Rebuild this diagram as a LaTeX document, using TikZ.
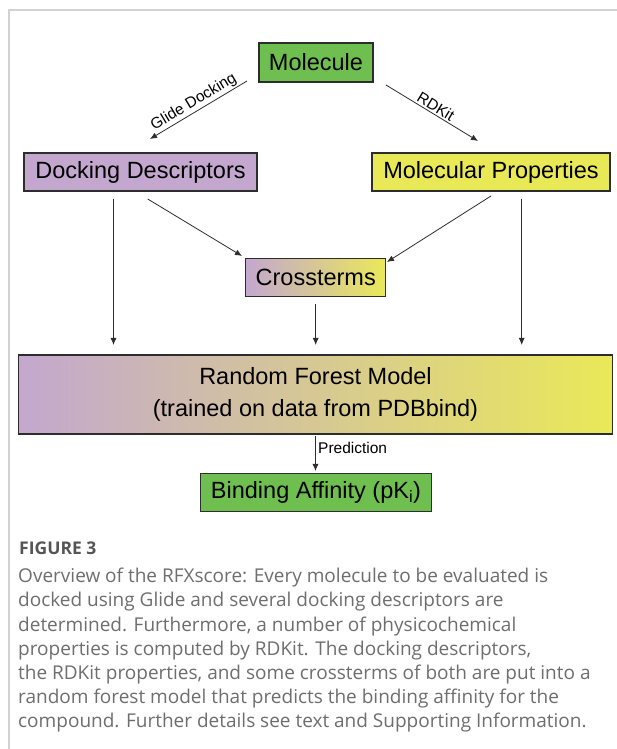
\documentclass[tikz,border=0pt]{standalone}
\usepackage{fontspec}
\setmainfont{Liberation Sans}
\newfontfamily\capfont{Open Sans}
\usetikzlibrary{arrows.meta}
\definecolor{boxgreen}{RGB}{110,190,80}
\definecolor{boxpurple}{RGB}{196,167,207}
\definecolor{boxyellow}{RGB}{233,233,88}
\definecolor{boxmid}{RGB}{218,200,182}
\definecolor{linegray}{RGB}{45,45,45}
\definecolor{framegray}{RGB}{210,210,210}
\definecolor{captext}{RGB}{110,110,110}
\definecolor{caphead}{RGB}{85,85,85}
\tikzset{
  box/.style={draw=linegray, line width=1.1pt, inner sep=0pt, text=black,
    font=\fontsize{23.5}{26}\selectfont},
  conn/.style={draw=linegray, line width=0.8pt, -{Latex[length=7pt,width=6pt]}},
  lbl/.style={font=\fontsize{15.5}{17}\selectfont, text=black, inner sep=1.5pt},
}
\begin{document}
\begin{tikzpicture}[x=1pt,y=1pt]
\useasboundingbox (0,0) rectangle (617,749);
\fill[white] (0,0) rectangle (617,749);
% frame
\draw[framegray, line width=1.5pt] (9,0) -- (9,739) -- (617,739);
% nodes
\node[box, fill=boxgreen, minimum width=114pt, minimum height=39pt] (mol) at (316,686.5) {Molecule};
\node[box, fill=boxpurple, minimum width=233pt, minimum height=38pt] (dd) at (140.5,577) {Docking Descriptors};
\node[box, fill=boxyellow, minimum width=238pt, minimum height=38pt] (mp) at (491,577) {Molecular Properties};
\node[box, left color=boxpurple, middle color=boxmid, right color=boxyellow, minimum width=140pt, minimum height=38.5pt] (ct) at (315.7,471.5) {Crossterms};
\node[box, left color=boxpurple, middle color=boxmid, right color=boxyellow, minimum width=594pt, minimum height=79pt, align=center,
  font=\fontsize{23.5}{32}\selectfont] (rf) at (315.5,354.5) {Random Forest Model\\(trained on data from PDBbind)};
\node[box, fill=boxgreen, minimum width=231.5pt, minimum height=38.5pt] (ba) at (316,256.5) {Binding Affinity (pK\textsubscript{i})};
% connector end points
\coordinate (g1) at (247,668);
\coordinate (g2) at (150,610);
\coordinate (r1) at (386,664);
\coordinate (r2) at (478,608);
\coordinate (a1) at (147.7,550);
\coordinate (a2) at (242,493);
\coordinate (b1) at (491,553);
\coordinate (b2) at (387,487);
\coordinate (v1s) at (113.5,550);
\coordinate (v1e) at (113.5,404);
\coordinate (v2s) at (315.7,445);
\coordinate (v2e) at (315.7,404);
\coordinate (v3s) at (521.7,550);
\coordinate (v3e) at (521.7,404);
\coordinate (ps) at (315.5,313);
\coordinate (pe) at (315.5,278);
% connectors
\draw[conn] (g1) -- node[lbl, sloped, above] {Glide Docking} (g2);
\draw[conn] (r1) -- node[lbl, sloped, above] {RDKit} (r2);
\draw[conn] (a1) -- (a2);
\draw[conn] (b1) -- (b2);
\draw[conn] (v1s) -- (v1e);
\draw[conn] (v2s) -- (v2e);
\draw[conn] (v3s) -- (v3e);
\draw[conn] (ps) -- (pe);
\node[lbl, anchor=west, inner sep=0pt] (pred) at (318,301) {Prediction};
% caption
\node[anchor=base west, inner sep=0pt, text=caphead, font=\capfont\bfseries\fontsize{17.5}{20}\selectfont] (fig) at (19,194) {FIGURE 3};
\node[anchor=north west, inner sep=0pt, text=captext, align=left, font=\capfont\fontsize{19}{24.2}\selectfont] (cap) at (18,181) {Overview of the RFXscore: Every molecule to be evaluated is\\
docked using Glide and several docking descriptors are\\
determined. Furthermore, a number of physicochemical\\
properties is computed by RDKit. The docking descriptors,\\
the RDKit properties, and some crossterms of both are put into a\\
random forest model that predicts the binding affinity for the\\
compound. Further details see text and Supporting Information.};
\end{tikzpicture}
\end{document}
